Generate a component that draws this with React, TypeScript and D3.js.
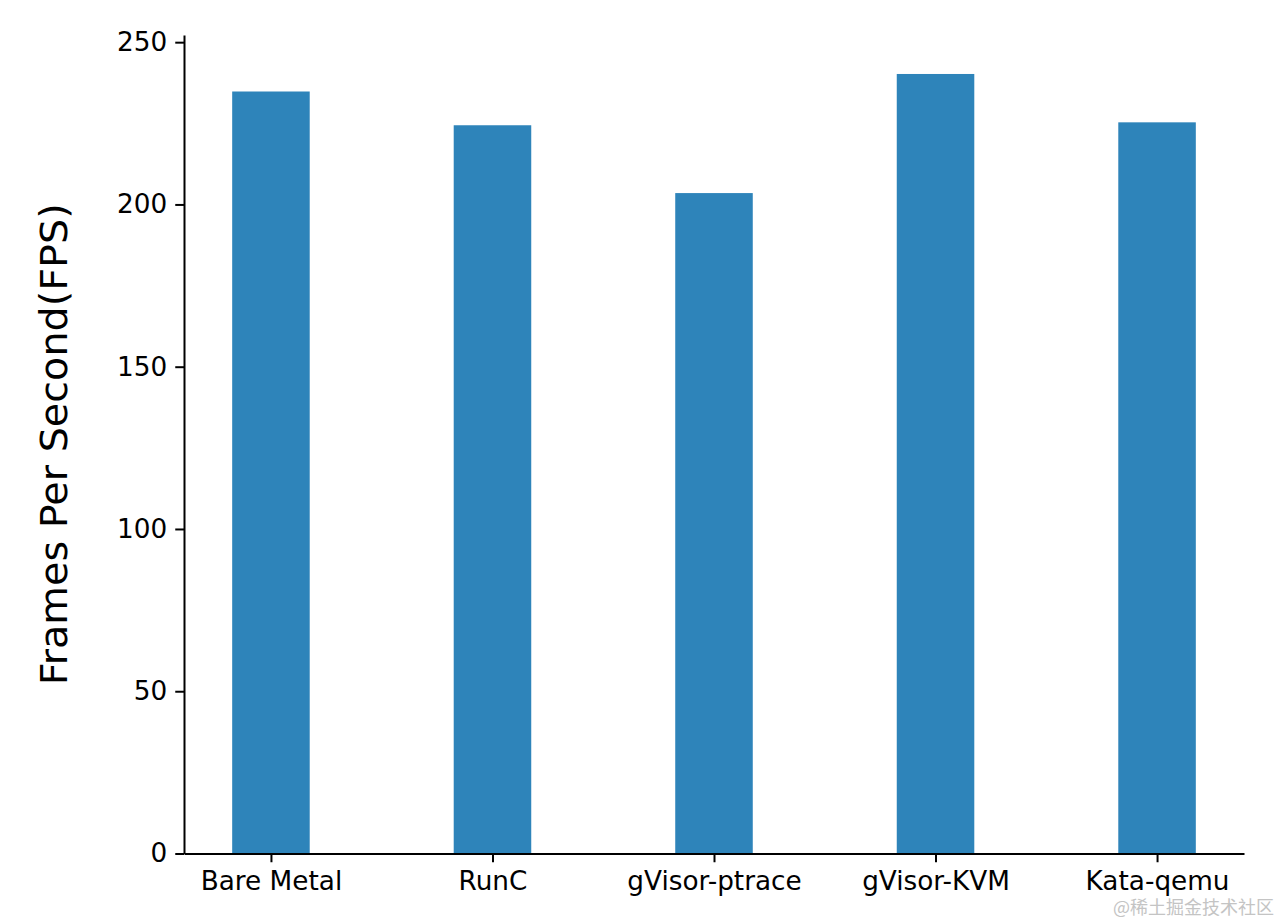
import { useEffect, useRef } from 'react';
import * as d3 from 'd3';

const categories = ['Bare Metal', 'RunC', 'gVisor-ptrace', 'gVisor-KVM', 'Kata-qemu'];
const fps = [234.8, 224.4, 203.5, 240.2, 225.3];
const yTicks = [0, 50, 100, 150, 200, 250];

const barColor = '#2e84ba';

export default function App() {
  const svgRef = useRef<SVGSVGElement>(null);

  useEffect(() => {
    document.body.style.margin = '0';
    if (!svgRef.current) return;

    const width = 1280;
    const height = 924;
    const margin = { top: 35, right: 36, bottom: 70.5, left: 184 };

    d3.select(svgRef.current).selectAll('*').remove();

    const svg = d3
      .select(svgRef.current)
      .attr('width', width)
      .attr('height', height)
      .attr('viewBox', `0 0 ${width} ${height}`);

    // matplotlib-like limits: bars of width 0.35 at 0..n-1, 5% margins
    const barW = 0.35;
    const xLo = -barW / 2;
    const xHi = categories.length - 1 + barW / 2;
    const xPad = (xHi - xLo) * 0.05;
    const x = d3
      .scaleLinear()
      .domain([xLo - xPad, xHi + xPad])
      .range([margin.left, width - margin.right]);

    const yMax = (d3.max(fps) ?? 0) * 1.05;
    const y = d3
      .scaleLinear()
      .domain([0, yMax])
      .range([height - margin.bottom, margin.top]);

    // Bars
    svg
      .append('g')
      .selectAll('rect')
      .data(fps)
      .join('rect')
      .attr('x', (_, i) => x(i - barW / 2))
      .attr('width', x(barW) - x(0))
      .attr('y', (d) => y(d))
      .attr('height', (d) => y(0) - y(d))
      .attr('fill', barColor);

    const tickFont = 'DejaVu Sans, sans-serif';
    const tickSize = 26.3;

    // Y axis
    const yAxis = svg
      .append('g')
      .attr('transform', `translate(${margin.left},0)`)
      .call(
        d3
          .axisLeft(y)
          .tickValues(yTicks)
          .tickSize(8.75)
          .tickPadding(8)
          .tickSizeOuter(0),
      );
    yAxis.select('.domain').attr('stroke', '#000').attr('stroke-width', 2);
    yAxis.selectAll('.tick line').attr('stroke', '#000').attr('stroke-width', 2);
    yAxis
      .selectAll('.tick text')
      .attr('fill', '#000')
      .attr('font-size', tickSize)
      .attr('font-family', tickFont);

    // X axis
    const xAxis = svg
      .append('g')
      .attr('transform', `translate(0,${y(0)})`)
      .call(
        d3
          .axisBottom(x)
          .tickValues(d3.range(categories.length))
          .tickFormat((d) => categories[d as number])
          .tickSize(8.75)
          .tickPadding(9)
          .tickSizeOuter(0),
      );
    xAxis.select('.domain').attr('stroke', '#000').attr('stroke-width', 2);
    xAxis.selectAll('.tick line').attr('stroke', '#000').attr('stroke-width', 2);
    xAxis
      .selectAll('.tick text')
      .attr('fill', '#000')
      .attr('font-size', tickSize)
      .attr('font-family', tickFont);

    // Y label
    svg
      .append('text')
      .attr('transform', `translate(67,${(y(0) + y(yMax)) / 2}) rotate(-90)`)
      .attr('text-anchor', 'middle')
      .attr('font-family', 'DejaVu Sans, sans-serif')
      .attr('font-size', 37)
      .attr('textLength', 482)
      .attr('lengthAdjust', 'spacingAndGlyphs')
      .attr('fill', '#000')
      .text('Frames Per Second(FPS)');

    // Watermark
    svg
      .append('text')
      .attr('x', 1274)
      .attr('y', 914)
      .attr('text-anchor', 'end')
      .attr('font-family', '"Noto Sans CJK SC", sans-serif')
      .attr('font-size', 18)
      .attr('fill', '#c4c4c4')
      .text('@稀土掘金技术社区');
  }, []);

  return <svg ref={svgRef} style={{ display: 'block', background: '#fff' }} />;
}
